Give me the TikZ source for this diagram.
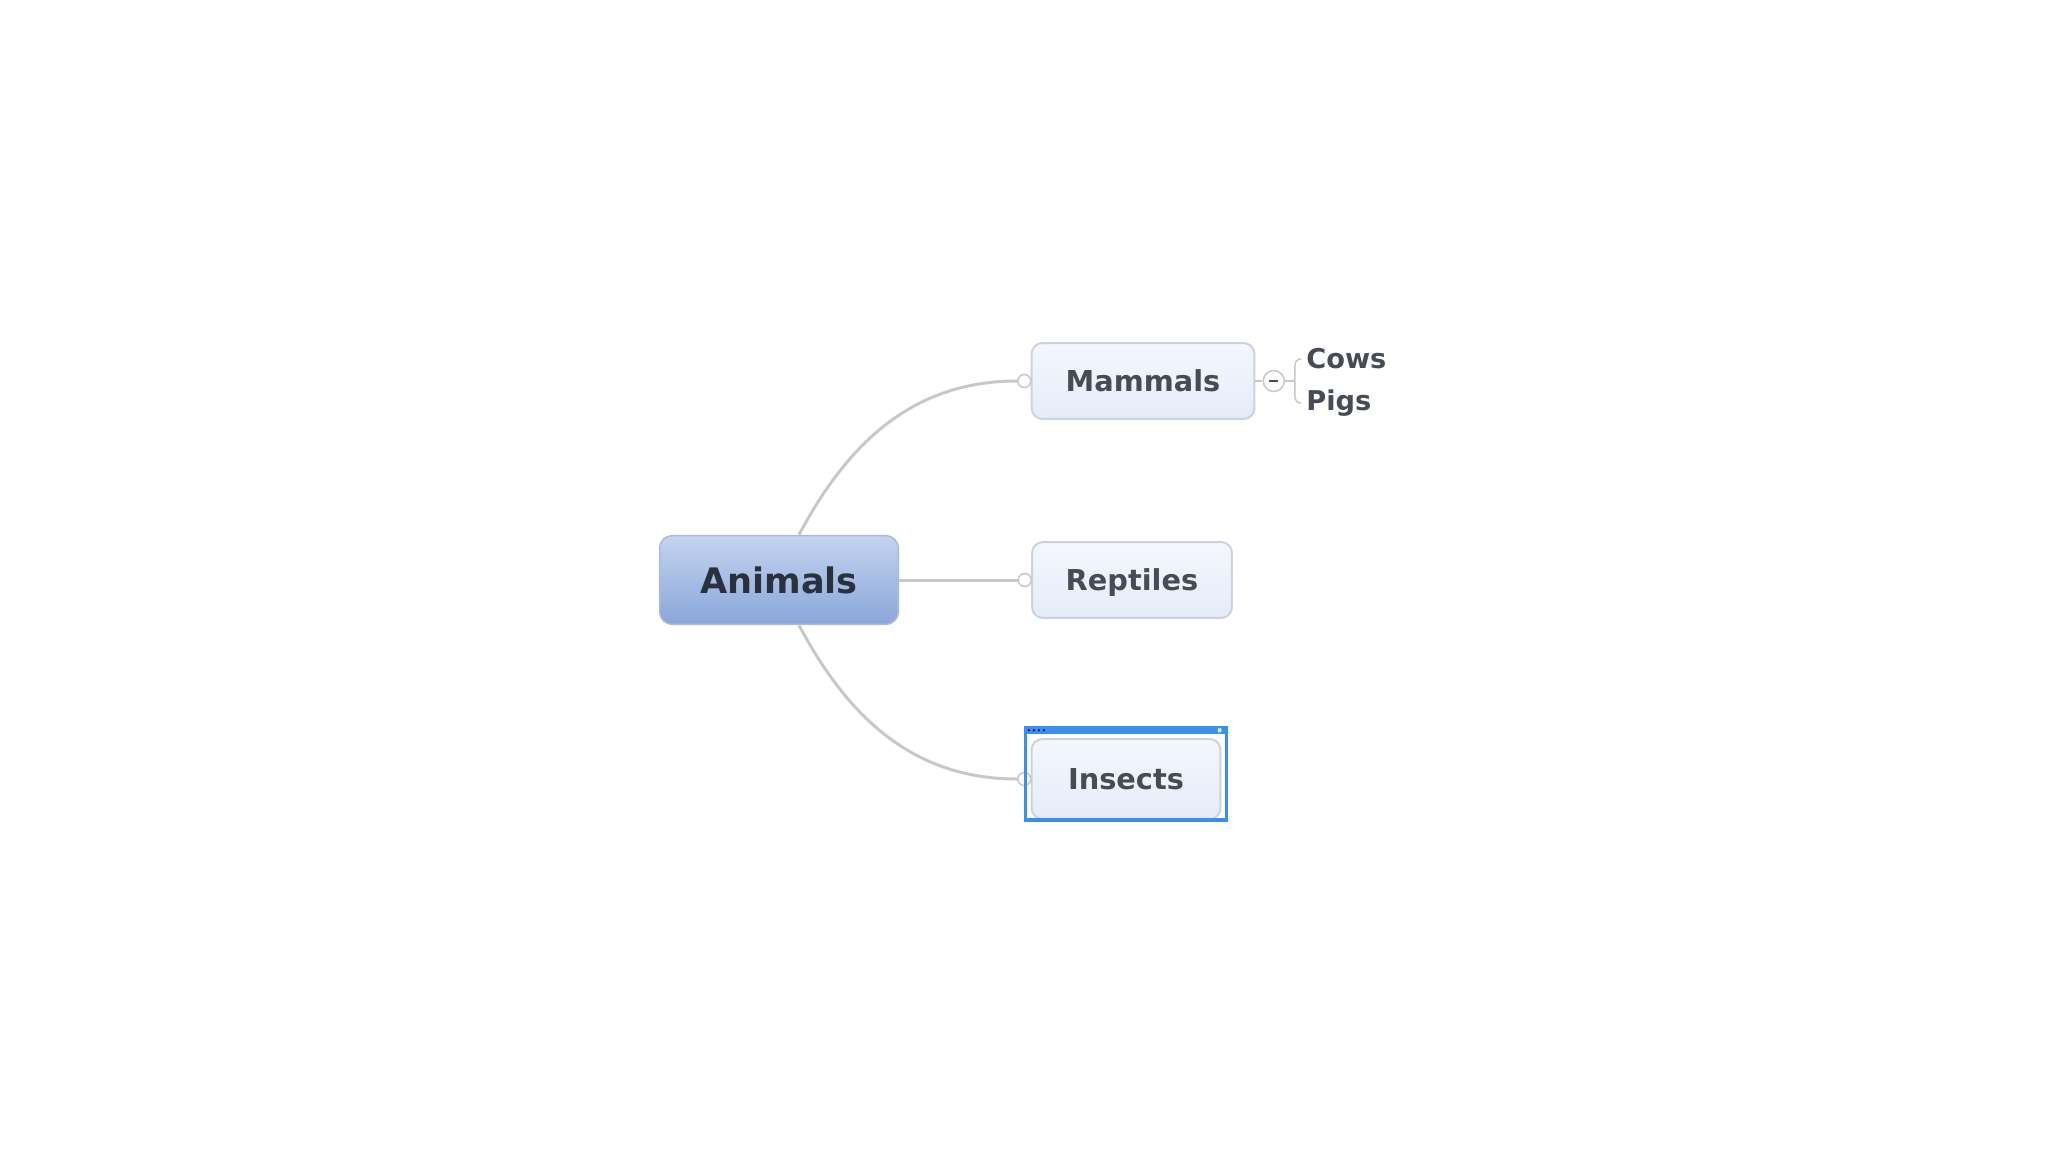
\documentclass[tikz,border=0pt]{standalone}
\usepackage{fontspec}
\setmainfont{DejaVu Sans}
\usetikzlibrary{positioning,fit}

\definecolor{rootTop}{HTML}{C4D4EF}
\definecolor{rootBot}{HTML}{89A6D9}
\definecolor{rootLine}{HTML}{A8BCE0}
\definecolor{rootText}{HTML}{29313E}
\definecolor{topicTop}{HTML}{F4F7FD}
\definecolor{topicBot}{HTML}{E5EBF8}
\definecolor{topicLine}{HTML}{CDD3DE}
\definecolor{topicText}{HTML}{464B56}
\definecolor{linkGray}{HTML}{C8C8C8}
\definecolor{selBlue}{HTML}{3A90EA}

\tikzset{
  rootbox/.style = {rectangle, rounded corners = 0.26cm, top color = rootTop, bottom color = rootBot, draw = rootLine, line width = 0.03cm, minimum width = 4.78cm, minimum height = 1.78cm, font = \bfseries\fontsize{20}{24}\selectfont, text = rootText},
  topicbox/.style = {rectangle, rounded corners = 0.22cm, top color = topicTop, bottom color = topicBot, draw = topicLine, line width = 0.04cm, minimum height = 1.52cm, text height = 0.42cm, text depth = 0cm, font = \bfseries\fontsize{16.4}{20}\selectfont, text = topicText},
  leaf/.style = {anchor = west, inner sep = 0pt, font = \bfseries\fontsize{15.5}{18}\selectfont, text = topicText},
  knob/.style = {circle, draw = linkGray, fill = white, line width = 0.03cm, minimum size = 0.26cm, inner sep = 0pt},
  fold/.style = {circle, draw = linkGray, fill = white, line width = 0.03cm, minimum size = 0.42cm, inner sep = 0pt},
  link/.style = {draw = linkGray, line width = 0.06cm},
  selframe/.style = {draw = selBlue, line width = 0.07cm, inner xsep = 0.1cm, inner ysep = 0.06cm}
}

\begin{document}
\begin{tikzpicture}[x = 0.02cm, y = -0.02cm]
\useasboundingbox[fill = white] (0,0) rectangle (2048,1152);

\node[rootbox] (animals) at (779,580) {Animals};
\node[topicbox, minimum width = 4.46cm] (mammals) at (1143,381) {Mammals};
\node[topicbox, minimum width = 4.0cm] (reptiles) at (1132,580) {Reptiles};
\node[topicbox, minimum width = 3.78cm, minimum height = 1.6cm] (insects) at (1126,779) {Insects};

\node[knob, left = -0.02cm of mammals] (mknob) {};
\node[knob, left = -0.02cm of reptiles] (rknob) {};
\node[knob, left = -0.02cm of insects] (iknob) {};

\draw[link] ([xshift = 0.4cm]animals.north) to[out = 62, in = 180] (mknob);
\draw[link] (animals.east) -- (rknob);
\draw[link] ([xshift = 0.4cm]animals.south) to[out = -62, in = 180] (iknob);

% selection of Insects
\node[selframe, fit = (insects), inner ysep = 0.1cm, yshift = 0.1cm] (insel) {};
\fill[selBlue] (insel.north west) rectangle ([yshift = -0.16cm]insel.north east);
\foreach \i in {0,...,3}
  \fill[blue!60!black] ([xshift = 0.1cm + \i*0.1cm, yshift = -0.08cm]insel.north west) circle (0.025cm);
\fill[white!80!selBlue] ([xshift = -0.22cm, yshift = -0.08cm]insel.north east) -- ++(0.08cm,0.05cm) -- ++(0,-0.1cm) -- cycle;
\fill[white!80!selBlue] ([xshift = -0.12cm, yshift = -0.08cm]insel.north east) -- ++(-0.08cm,0.05cm) -- ++(0,-0.1cm) -- cycle;

% collapsed branch of Mammals
\node[fold, right = 0.14cm of mammals] (mfold) {};
\draw[link, line width = 0.03cm] (mammals.east) -- (mfold);
\draw[topicText, line width = 0.04cm] ([xshift = -0.09cm]mfold.center) -- ([xshift = 0.09cm]mfold.center);
\node[leaf] (cows) at (1306,359) {Cows};
\node[leaf] (pigs) at (1306,403) {Pigs};
\coordinate (bk) at ([xshift = 0.2cm]mfold.east);
\draw[link, line width = 0.03cm] (mfold.east) -- (bk);
\draw[link, line width = 0.03cm, rounded corners = 0.12cm] ([xshift = -0.1cm]cows.west) -| (bk) |- ([xshift = -0.1cm]pigs.west);
\end{tikzpicture}
\end{document}
